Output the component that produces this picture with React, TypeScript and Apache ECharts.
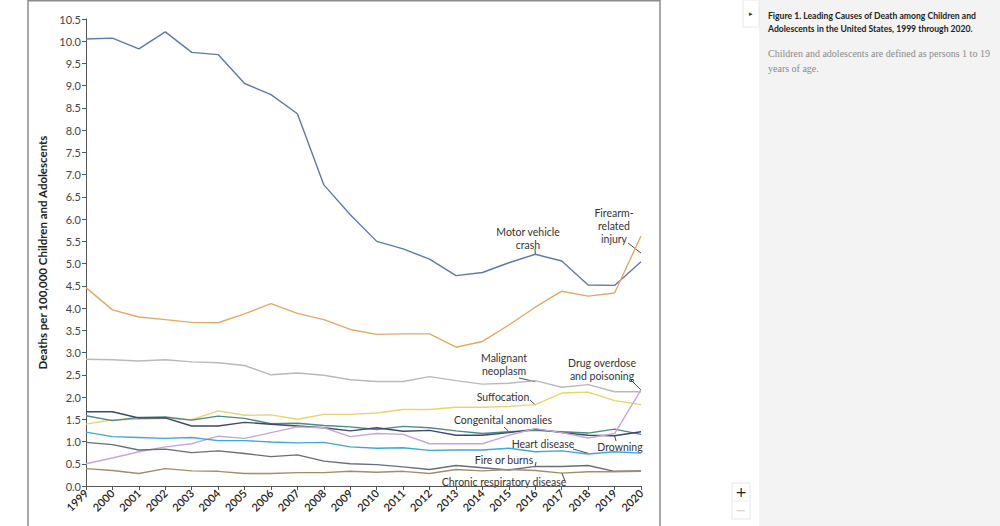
import React, { useEffect, useRef } from "react";
import * as echarts from "echarts";

const years = ["1999","2000","2001","2002","2003","2004","2005","2006","2007","2008","2009","2010","2011","2012","2013","2014","2015","2016","2017","2018","2019","2020"];
const yTicks = { min: 0, max: 10.5, interval: 0.5 };

const motorVehicle = [10.05, 10.07, 9.83, 10.21, 9.75, 9.70, 9.05, 8.80, 8.37, 6.77, 6.10, 5.50, 5.33, 5.10, 4.73, 4.80, 5.02, 5.21, 5.06, 4.52, 4.51, 5.04];
const firearm = [4.46, 3.96, 3.80, 3.74, 3.68, 3.67, 3.87, 4.10, 3.88, 3.74, 3.52, 3.41, 3.42, 3.42, 3.12, 3.25, 3.62, 4.02, 4.38, 4.27, 4.34, 5.62];
const malignant = [2.85, 2.84, 2.81, 2.84, 2.79, 2.77, 2.71, 2.50, 2.54, 2.49, 2.39, 2.35, 2.35, 2.46, 2.37, 2.29, 2.31, 2.37, 2.22, 2.28, 2.12, 2.12];
const suffocation = [1.39, 1.49, 1.50, 1.52, 1.49, 1.69, 1.59, 1.60, 1.50, 1.61, 1.61, 1.64, 1.72, 1.72, 1.77, 1.77, 1.79, 1.83, 2.09, 2.11, 1.92, 1.83];
const congenital = [1.58, 1.47, 1.54, 1.55, 1.48, 1.57, 1.52, 1.40, 1.41, 1.36, 1.33, 1.27, 1.34, 1.31, 1.24, 1.18, 1.22, 1.25, 1.22, 1.19, 1.28, 1.16];
const drowning = [1.67, 1.67, 1.53, 1.53, 1.35, 1.35, 1.43, 1.39, 1.35, 1.31, 1.24, 1.31, 1.23, 1.25, 1.14, 1.14, 1.20, 1.28, 1.20, 1.14, 1.13, 1.22];
const drugOverdose = [0.50, 0.63, 0.77, 0.88, 0.95, 1.12, 1.07, 1.20, 1.33, 1.31, 1.11, 1.18, 1.16, 0.95, 0.95, 0.95, 1.14, 1.29, 1.20, 1.08, 1.18, 2.16];
const heartDisease = [1.21, 1.11, 1.09, 1.07, 1.09, 1.02, 1.02, 0.99, 0.97, 0.98, 0.88, 0.85, 0.86, 0.80, 0.81, 0.81, 0.85, 0.77, 0.79, 0.72, 0.77, 0.74];
const fireBurns = [0.98, 0.93, 0.81, 0.83, 0.75, 0.79, 0.73, 0.66, 0.70, 0.56, 0.50, 0.48, 0.43, 0.37, 0.46, 0.41, 0.36, 0.44, 0.44, 0.46, 0.33, 0.34];
const chronicResp = [0.39, 0.35, 0.28, 0.39, 0.34, 0.33, 0.28, 0.28, 0.30, 0.30, 0.33, 0.31, 0.33, 0.28, 0.37, 0.34, 0.37, 0.35, 0.29, 0.32, 0.32, 0.33];

const seriesDefs = [
  { name: "Motor vehicle crash", data: motorVehicle, color: "#5b7aa9" },
  { name: "Firearm-related injury", data: firearm, color: "#e2a965" },
  { name: "Malignant neoplasm", data: malignant, color: "#b9b9bb" },
  { name: "Suffocation", data: suffocation, color: "#e9d36b" },
  { name: "Congenital anomalies", data: congenital, color: "#4c8b80" },
  { name: "Drowning", data: drowning, color: "#3e4673" },
  { name: "Drug overdose and poisoning", data: drugOverdose, color: "#c9a5d6" },
  { name: "Heart disease", data: heartDisease, color: "#3aa9d6" },
  { name: "Fire or burns", data: fireBurns, color: "#6a6d78" },
  { name: "Chronic respiratory disease", data: chronicResp, color: "#a38c6c" },
];

// annotation: label lines, label center, pointer start, pointer anchor (fractional year index on series)
const annotations = [
  { lines: ["Motor vehicle", "crash"], x: 528, y: 232, from: [535, 249], series: motorVehicle, idx: 17 },
  { lines: ["Firearm-", "related", "injury"], x: 614, y: 213, from: [628, 243], series: firearm, idx: 20.7 },
  { lines: ["Malignant", "neoplasm"], x: 504, y: 358, from: [519, 378], series: malignant, idx: 16.6 },
  { lines: ["Drug overdose", "and poisoning"], x: 602, y: 363, from: [631, 380], series: drugOverdose, idx: 21 },
  { lines: ["Suffocation"], x: 503, y: 397, from: [530, 400], series: suffocation, idx: 16.8 },
  { lines: ["Congenital anomalies"], x: 503, y: 420, from: [504, 427], series: congenital, idx: 16.1 },
  { lines: ["Heart disease"], x: 543, y: 444, from: [573, 449], series: heartDisease, idx: 18.8 },
  { lines: ["Drowning"], x: 620, y: 447, from: [616, 441], series: drowning, idx: 19.9 },
  { lines: ["Fire or burns"], x: 504, y: 460, from: [536, 462], series: fireBurns, idx: 17.2 },
  { lines: ["Chronic respiratory disease"], x: 504, y: 482, from: [565, 481], series: chronicResp, idx: 18.3 },
];

function interp(arr: number[], f: number) {
  const i = Math.floor(f);
  const t = f - i;
  if (i >= arr.length - 1) return arr[arr.length - 1];
  return arr[i] * (1 - t) + arr[i + 1] * t;
}

export default function App() {
  const ref = useRef<HTMLDivElement>(null);
  useEffect(() => {
    const chart = echarts.init(ref.current!, null, { renderer: "svg" });
    const axisColor = "#555";
    chart.setOption({
      animation: false,
      backgroundColor: "#ffffff",
      grid: { left: 86, right: 359, top: 19, bottom: 40, containLabel: false },
      xAxis: {
        type: "category",
        data: years,
        boundaryGap: false,
        axisLine: { lineStyle: { color: axisColor, width: 1 } },
        axisTick: { show: true, length: 4, lineStyle: { color: axisColor } },
        axisLabel: { rotate: 45, interval: 0, fontFamily: "Lato", fontSize: 11, fontWeight: 600, color: "#222", margin: 5 },
        splitLine: { show: false },
      },
      yAxis: {
        type: "value",
        min: yTicks.min,
        max: yTicks.max,
        interval: yTicks.interval,
        name: "Deaths per 100,000 Children and Adolescents",
        nameLocation: "middle",
        nameRotate: 90,
        nameGap: 36,
        nameTextStyle: { fontFamily: "Lato", fontSize: 11.5, fontWeight: "bold", color: "#222" },
        axisLine: { show: true, lineStyle: { color: axisColor, width: 1 } },
        axisTick: { show: true, length: 4, lineStyle: { color: axisColor } },
        axisLabel: { formatter: (v: number) => v.toFixed(1), fontFamily: "Lato", fontSize: 11, color: "#444", margin: 5 },
        splitLine: { show: false },
      },
      series: seriesDefs.map((s) => ({
        type: "line",
        name: s.name,
        data: s.data,
        symbol: "none",
        lineStyle: { color: s.color, width: 1.4 },
        itemStyle: { color: s.color },
      })),
    });

    const graphics: any[] = [
      { type: "rect", z: -10, silent: true, shape: { x: 759, y: 0, width: 241, height: 526 }, style: { fill: "#f3f3f3" } },
      { type: "rect", z: -5, silent: true, shape: { x: 28, y: 0.75, width: 632, height: 540 }, style: { fill: "none", stroke: "#8a8a8a", lineWidth: 1.5 } },
      { type: "rect", silent: true, shape: { x: 743, y: 0, width: 16, height: 27 }, style: { fill: "#ffffff", stroke: "#e8e8e8", lineWidth: 1 } },
      { type: "text", silent: true, style: { text: "▸", x: 751, y: 13, fill: "#333", fontSize: 7, align: "center", verticalAlign: "middle" } },
      { type: "text", silent: true, style: { text: "Figure 1. Leading Causes of Death among Children and\nAdolescents in the United States, 1999 through 2020.", x: 768, y: 9, fill: "#222", fontSize: 8.6, fontWeight: "bold", fontFamily: "Lato", lineHeight: 13.5 } },
      { type: "text", silent: true, style: { text: "Children and adolescents are defined as persons 1 to 19\nyears of age.", x: 768, y: 46, fill: "#8a8a8a", fontSize: 10, fontFamily: "Liberation Serif", lineHeight: 15 } },
      { type: "rect", silent: true, shape: { x: 732, y: 483, width: 18, height: 36 }, style: { fill: "#ffffff", stroke: "#e6e6e6", lineWidth: 1 } },
      { type: "line", silent: true, shape: { x1: 733, y1: 501, x2: 749, y2: 501 }, style: { stroke: "#ececec", lineWidth: 1 } },
      { type: "text", silent: true, style: { text: "+", x: 741, y: 492, fill: "#222", fontSize: 14, fontFamily: "DejaVu Sans", align: "center", verticalAlign: "middle" } },
      { type: "text", silent: true, style: { text: "−", x: 741, y: 510, fill: "#cfcfcf", fontSize: 13, fontFamily: "DejaVu Sans", align: "center", verticalAlign: "middle" } },
    ];

    annotations.forEach((a) => {
      const end = chart.convertToPixel({ gridIndex: 0 }, [a.idx, interp(a.series, a.idx)]) as number[];
      graphics.push({
        type: "text",
        silent: true,
        style: {
          text: a.lines.join("\n"),
          x: a.x,
          y: a.y - 6.5,
          align: "center",
          verticalAlign: "top",
          fontFamily: "Lato",
          fontSize: 10.5,
          lineHeight: 13,
          fill: "#333",
        },
      });
      graphics.push({
        type: "line",
        silent: true,
        shape: { x1: a.from[0], y1: a.from[1], x2: end[0], y2: end[1] },
        style: { stroke: "#333", lineWidth: 0.9 },
      });
    });

    chart.setOption({ graphic: graphics });
    return () => chart.dispose();
  }, []);
  return <div ref={ref} style={{ position: "fixed", left: 0, top: 0, width: 1000, height: 526 }} />;
}
